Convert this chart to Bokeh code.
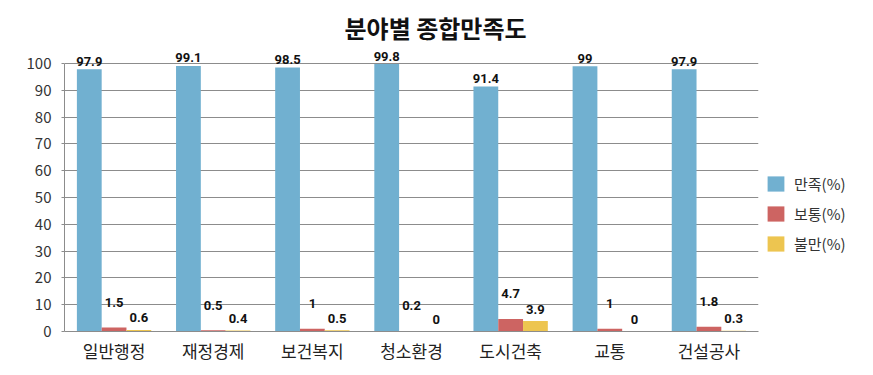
from bokeh.plotting import figure
from bokeh.models import ColumnDataSource, FactorRange, Range1d, Legend, LegendItem, LabelSet, Title
from bokeh.transform import dodge
from bokeh.core.properties import value
from bokeh.embed import file_html
from bokeh.resources import INLINE

categories = ["일반행정", "재정경제", "보건복지", "청소환경", "도시건축", "교통", "건설공사"]
satisfied = [97.9, 99.1, 98.5, 99.8, 91.4, 99.0, 97.9]
neutral = [1.5, 0.5, 1.0, 0.2, 4.7, 1.0, 1.8]
dissatisfied = [0.6, 0.4, 0.5, 0.0, 3.9, 0.0, 0.3]
sat_labels = ["97.9", "99.1", "98.5", "99.8", "91.4", "99", "97.9"]
neu_labels = ["1.5", "0.5", "1", "0.2", "4.7", "1", "1.8"]
dis_labels = ["0.6", "0.4", "0.5", "0", "3.9", "0", "0.3"]
series_names = ["만족(%)", "보통(%)", "불만(%)"]
y_ticks = list(range(0, 101, 10))

colors = ["#71B0D0", "#CD6462", "#EDC550"]

src = ColumnDataSource(dict(cat=categories, s=satisfied, n=neutral, d=dissatisfied,
                            sl=sat_labels, nl=neu_labels, dl=dis_labels))

p = figure(x_range=FactorRange(*categories, range_padding=0), y_range=Range1d(0, 106),
           frame_width=694, frame_height=284, output_backend="svg", toolbar_location=None,
           min_border_left=64, min_border_right=107, min_border_top=47, min_border_bottom=36,
           title=None)
p.outline_line_color = None
p.background_fill_color = "white"
p.border_fill_color = "white"

cols = ["s", "n", "d"]
lab_cols = ["sl", "nl", "dl"]
offsets = [-0.25, 0.0, 0.25]
label_yoff = [8, 25, 12]
renderers = []
for c, lc, off, col, yo in zip(cols, lab_cols, offsets, colors, label_yoff):
    r = p.vbar(x=dodge("cat", off, range=p.x_range), top=c, width=0.25, source=src,
               fill_color=col, line_color=None)
    renderers.append(r)
    ls = LabelSet(x=dodge("cat", off, range=p.x_range), y=c, text=lc, source=src,
                  y_offset=yo, text_align="center", text_baseline="middle",
                  text_font=value("Roboto"), text_font_style="bold",
                  text_font_size="13px", text_color="#111111")
    p.add_layout(ls)

p.yaxis.ticker = y_ticks
p.yaxis.bounds = (0, 100)
p.ygrid.grid_line_color = "#8c8c8c"
p.ygrid.grid_line_width = 1
p.xgrid.grid_line_color = None

p.yaxis.axis_line_color = "#8c8c8c"
p.yaxis.major_tick_line_color = "#8c8c8c"
p.yaxis.major_tick_out = 3
p.yaxis.major_tick_in = 0
p.yaxis.minor_tick_line_color = None
p.yaxis.major_label_text_font = "Noto Sans CJK KR"
p.yaxis.major_label_text_font_size = "15px"
p.yaxis.major_label_text_color = "#333333"
p.yaxis.major_label_standoff = 10

p.xaxis.axis_line_color = "#8c8c8c"
p.xaxis.major_tick_line_color = None
p.xaxis.minor_tick_line_color = None
p.xaxis.major_label_text_font = "Noto Sans CJK KR"
p.xaxis.major_label_text_font_size = "17px"
p.xaxis.major_label_text_color = "#222222"
p.xaxis.major_label_standoff = 0

t = Title(text="분야별 종합만족도", align="left", offset=280, standoff=6,
          text_font="Noto Sans CJK KR",
          text_font_style="bold", text_font_size="24px", text_color="#111111")
p.add_layout(t, "above")

legend = Legend(items=[LegendItem(label=n, renderers=[r]) for n, r in zip(series_names, renderers)],
                location=(7, 77), orientation="vertical")
legend.border_line_color = None
legend.background_fill_alpha = 0
legend.padding = 0
legend.margin = 0
legend.spacing = 9
legend.glyph_width = 21
legend.glyph_height = 19
legend.label_standoff = 8
legend.label_text_font = "Noto Sans CJK KR"
legend.label_text_font_size = "15px"
legend.label_text_color = "#333333"
p.add_layout(legend, "right")

open("out.html", "w").write(file_html(p, INLINE))
